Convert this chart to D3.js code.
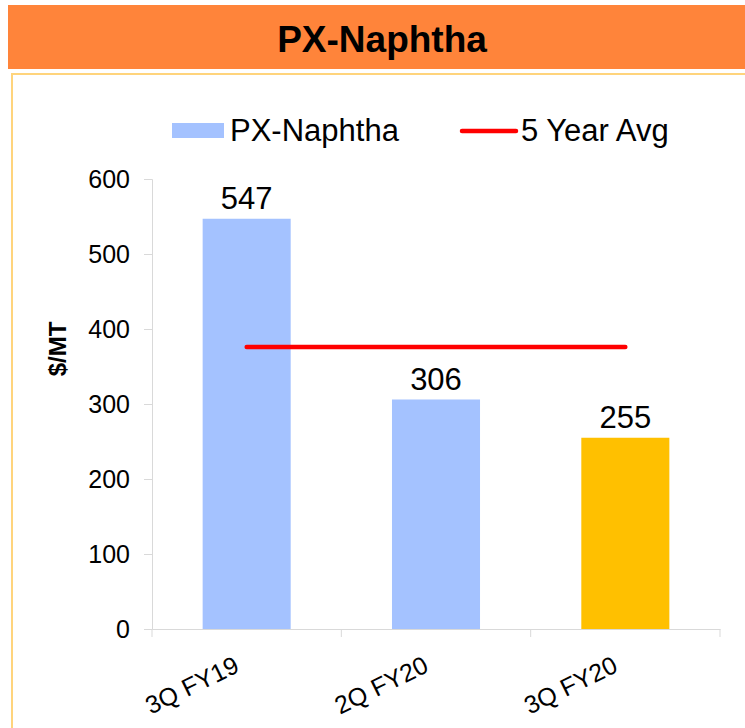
<!DOCTYPE html>
<html>
<head>
<meta charset="utf-8">
<script src="https://cdn.jsdelivr.net/npm/d3@7"></script>
<style>
    body { margin: 0; background: #fff; }
    text { font-family: "Liberation Sans", Arial, sans-serif; fill: #000; }
    .axis path, .axis line { stroke: #d9d9d9; }
</style>
</head>
<body>
<svg id="chart" width="745" height="728" viewBox="0 0 745 728"></svg>
<script>
// Chart data
const categories = ["3Q FY19", "2Q FY20", "3Q FY20"];
const values = [547, 306, 255];
const barColors = ["#a4c2ff", "#a4c2ff", "#ffc000"];
const fiveYearAvg = 376;
const yTicks = [0, 100, 200, 300, 400, 500, 600];

const svg = d3.select("#chart");

// Title bar
svg.append("rect")
    .attr("x", 8).attr("y", 5)
    .attr("width", 745).attr("height", 64)
    .attr("fill", "#ff843a");

svg.append("text")
    .attr("x", 382).attr("y", 52)
    .attr("text-anchor", "middle")
    .style("font-size", "37px")
    .style("font-weight", "bold")
    .text("PX-Naphtha");

// Frame
svg.append("rect")
    .attr("x", 12).attr("y", 74)
    .attr("width", 760).attr("height", 700)
    .attr("fill", "none")
    .attr("stroke", "#ffd47c")
    .attr("stroke-width", 2);

// Scales
const x = d3.scaleBand()
    .domain(categories)
    .range([152, 720]);

const y = d3.scaleLinear()
    .domain([0, 600])
    .range([629, 179]);

const barW = x.bandwidth() * 0.465;

// Y axis
const yAxis = svg.append("g")
    .attr("class", "axis")
    .attr("transform", "translate(152,0)")
    .call(d3.axisLeft(y).tickValues(yTicks).tickSize(8).tickSizeOuter(8).tickPadding(14));
yAxis.selectAll("text")
    .style("font-size", "25px");

// X axis
const xAxis = svg.append("g")
    .attr("class", "axis")
    .attr("transform", "translate(0,629)")
    .call(d3.axisBottom(x).tickSize(0).tickSizeOuter(0));
xAxis.selectAll(".tick").remove();

// category boundary ticks
xAxis.selectAll(".bound")
    .data(categories.concat(["end"]))
    .enter()
    .append("line")
    .attr("x1", (d, i) => x.range()[0] + i * x.step())
    .attr("x2", (d, i) => x.range()[0] + i * x.step())
    .attr("y1", 0).attr("y2", 8)
    .attr("stroke", "#d9d9d9");

// category labels
svg.selectAll(".cat-label")
    .data(categories)
    .enter()
    .append("text")
    .attr("class", "cat-label")
    .attr("text-anchor", "end")
    .style("font-size", "25px")
    .attr("transform", d => "translate(" + (x(d) + x.bandwidth() / 2 - 6) + ",671) rotate(-26)")
    .text(d => d);

// Y title
svg.append("text")
    .attr("transform", "translate(66,349) rotate(-90)")
    .attr("text-anchor", "middle")
    .style("font-size", "24px")
    .style("font-weight", "bold")
    .text("$/MT");

// Bars
svg.selectAll(".bar")
    .data(values)
    .enter()
    .append("rect")
    .attr("class", "bar")
    .attr("x", (d, i) => x(categories[i]) + (x.bandwidth() - barW) / 2)
    .attr("y", d => y(d))
    .attr("width", barW)
    .attr("height", d => y(0) - y(d))
    .attr("fill", (d, i) => barColors[i]);

// Value labels
svg.selectAll(".val-label")
    .data(values)
    .enter()
    .append("text")
    .attr("class", "val-label")
    .attr("x", (d, i) => x(categories[i]) + x.bandwidth() / 2)
    .attr("y", d => y(d) - 10)
    .attr("text-anchor", "middle")
    .style("font-size", "31px")
    .text(d => d);

// 5 year average line
const first = categories[0], last = categories[categories.length - 1];
svg.append("line")
    .attr("x1", x(first) + x.bandwidth() / 2)
    .attr("x2", x(last) + x.bandwidth() / 2)
    .attr("y1", y(fiveYearAvg))
    .attr("y2", y(fiveYearAvg))
    .attr("stroke", "#ff0000")
    .attr("stroke-width", 4.5)
    .attr("stroke-linecap", "round");

// Legend
const legend = svg.append("g");
legend.append("rect")
    .attr("x", 172).attr("y", 123)
    .attr("width", 52).attr("height", 15)
    .attr("fill", barColors[0]);
legend.append("text")
    .attr("x", 230).attr("y", 141)
    .style("font-size", "31px")
    .text("PX-Naphtha");
legend.append("line")
    .attr("x1", 462).attr("x2", 516)
    .attr("y1", 131).attr("y2", 131)
    .attr("stroke", "#ff0000")
    .attr("stroke-width", 4.5)
    .attr("stroke-linecap", "round");
legend.append("text")
    .attr("x", 521).attr("y", 141)
    .style("font-size", "31px")
    .text("5 Year Avg");
</script>
</body>
</html>
